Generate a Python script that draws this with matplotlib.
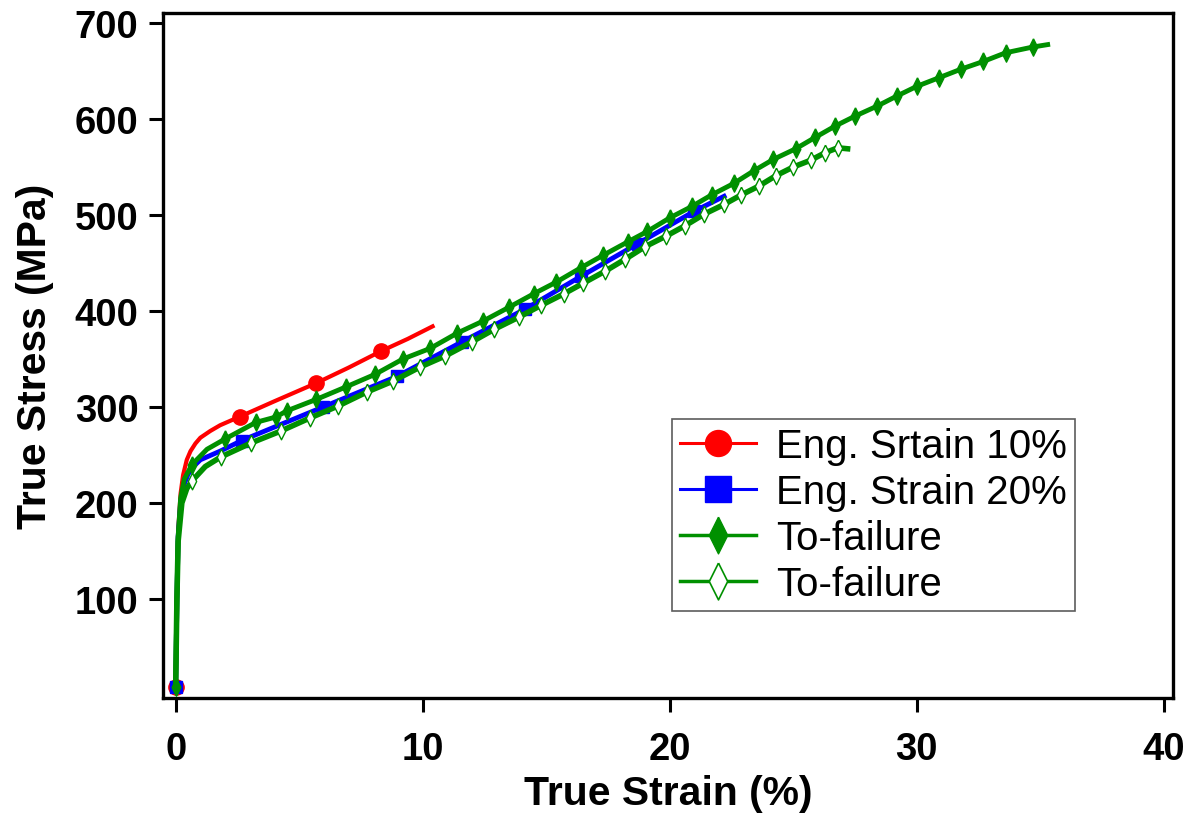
import matplotlib
matplotlib.use("Agg")
import matplotlib.pyplot as plt
from matplotlib.lines import Line2D

plt.rcParams['font.family'] = ['Liberation Sans', 'DejaVu Sans']

# ---- data ----
red_strain = [0, 0.05, 0.1, 0.2, 0.3, 0.45, 0.6, 0.8, 1.0, 1.4, 1.8, 2.6, 4.0, 5.7, 7.0, 8.3, 9.4, 10.4]
red_stress = [8, 100, 170, 210, 229, 245, 254, 262, 268, 275, 281, 290, 306, 325, 341, 358, 371, 384]
red_marks = [0, 11, 13, 15]

blue_strain = [0, 0.05, 0.1, 0.2, 0.35, 0.5, 0.7, 1.0, 1.8, 2.67, 5.97, 8.97, 11.6, 14.15, 16.4, 18.7, 21.0, 22.2]
blue_stress = [8, 100, 165, 200, 220, 230, 237.5, 245, 254, 265, 300, 332, 368, 402, 436, 470, 504, 519.5]
blue_marks = [0, 9, 10, 11, 12, 13, 14, 15, 16]

gf_strain = [0, 0.05, 0.1, 0.2, 0.35, 0.66, 1.27, 2.0, 3.25, 4.06, 4.5, 5.7, 6.9, 8.07, 9.2, 10.3,
             11.4, 12.45, 13.5, 14.5, 15.4, 16.4, 17.3, 18.3, 19.1, 20.0, 20.9, 21.7, 22.6, 23.4,
             24.2, 25.1, 25.9, 26.7, 27.5, 28.4, 29.2, 30.0, 30.9, 31.8, 32.7, 33.6, 34.7, 35.3]
gf_stress = [8, 100, 165, 205, 225, 240, 256, 266.7, 284, 289.6, 296, 308, 321, 334, 350, 361,
             377, 389.6, 404, 418, 430, 445, 458, 472, 483, 497, 509, 521, 533, 546,
             558, 569, 581, 592.7, 603, 613.5, 624, 634, 643, 652, 660, 669, 675, 677.5]
gf_marks = [0, 5] + list(range(7, 43))

go_strain = [0, 0.05, 0.1, 0.25, 0.45, 0.66, 1.2, 1.83, 3.05, 4.26, 5.43, 6.57, 7.74, 8.8, 9.9,
             10.9, 12.0, 12.9, 13.9, 14.8, 15.7, 16.5, 17.4, 18.2, 19.0, 19.85, 20.6, 21.4,
             22.2, 22.9, 23.6, 24.3, 25.0, 25.7, 26.3, 26.8, 27.2]
go_stress = [8, 100, 160, 200, 215, 223, 238, 248, 262.5, 275, 288.5, 301, 315.6, 327, 341.7,
             353, 368, 381, 393.7, 406, 417.7, 429, 441.7, 454, 467, 478, 488.5, 501,
             511, 521, 530, 541, 550, 557, 565, 570, 569]
go_marks = [0, 5] + list(range(7, 36))

labels = ["Eng. Srtain 10%", "Eng. Strain 20%", "To-failure", "To-failure"]
x_ticks = [0, 10, 20, 30, 40]
y_ticks = [100, 200, 300, 400, 500, 600, 700]

RED = "#FF0000"
BLUE = "#0000FF"
GREEN = "#009000"
diamond = [(0, 1), (0.5, 0), (0, -1), (-0.5, 0), (0, 1)]

fig = plt.figure(figsize=(11.88, 8.2), dpi=100)
ax = fig.add_axes([0.1376, 0.1476, 0.8495, 0.8353])

ax.plot(red_strain, red_stress, color=RED, lw=3.0, marker='o', ms=11,
        markevery=red_marks, mfc=RED, mec=RED, zorder=3)
ax.plot(blue_strain, blue_stress, color=BLUE, lw=3.5, marker='s', ms=9,
        markevery=blue_marks, mfc=BLUE, mec=BLUE, zorder=3)
ax.plot(go_strain, go_stress, color=GREEN, lw=4.0, marker=diamond, ms=12,
        markevery=go_marks, mfc='white', mec=GREEN, mew=1.0, zorder=4)
ax.plot(gf_strain, gf_stress, color=GREEN, lw=3.5, marker=diamond, ms=12.5,
        markevery=gf_marks, mfc=GREEN, mec=GREEN, zorder=4)

ax.set_xlim(-0.494, 40.36)
ax.set_ylim(-3.1, 710.4)
ax.set_xticks(x_ticks)
ax.set_yticks(y_ticks)
ax.tick_params(direction='out', length=10, width=2.2, labelsize=27.5)
ax.tick_params(axis='x', pad=14)
ax.tick_params(axis='y', pad=8)
for lab in ax.get_xticklabels() + ax.get_yticklabels():
    lab.set_fontweight('bold')
for sp in ax.spines.values():
    sp.set_linewidth(2.4)

ax.set_xlabel("True Strain (%)", fontsize=29.4, fontweight='bold', labelpad=5)
ax.set_ylabel("True Stress (MPa)", fontsize=29.4, fontweight='bold', labelpad=15)

handles = [
    Line2D([], [], color=RED, lw=2.2, marker='o', ms=18.7, mfc=RED, mec=RED),
    Line2D([], [], color=BLUE, lw=2.2, marker='s', ms=18.7, mfc=BLUE, mec=BLUE),
    Line2D([], [], color=GREEN, lw=2.5, marker=diamond, ms=26.5, mfc=GREEN, mec=GREEN),
    Line2D([], [], color=GREEN, lw=2.5, marker=diamond, ms=26.5, mfc='white', mec=GREEN, mew=1.2),
]
leg = ax.legend(handles, labels, loc='upper left', bbox_to_anchor=(0.5036, 0.4073),
                borderaxespad=0, fontsize=29, frameon=True, fancybox=False,
                handlelength=1.9, handletextpad=0.5, borderpad=0.2, labelspacing=0.2)
leg.get_frame().set_edgecolor('#333333')
leg.get_frame().set_linewidth(1.2)

fig.savefig("out.png", dpi=100)
